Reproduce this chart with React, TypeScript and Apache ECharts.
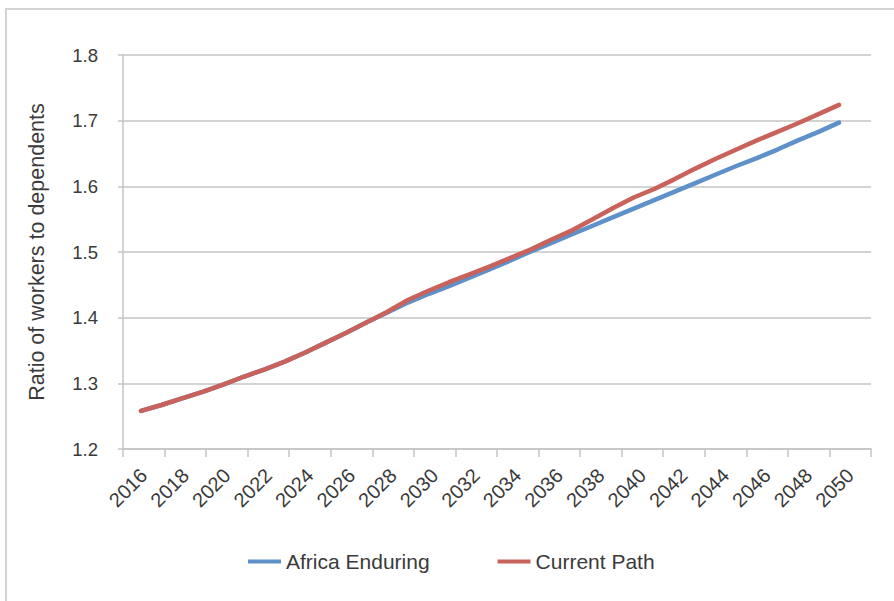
import React, { useEffect, useRef } from "react";
import * as echarts from "echarts";

const years = [
  2016, 2017, 2018, 2019, 2020, 2021, 2022, 2023, 2024, 2025, 2026, 2027,
  2028, 2029, 2030, 2031, 2032, 2033, 2034, 2035, 2036, 2037, 2038, 2039,
  2040, 2041, 2042, 2043, 2044, 2045, 2046, 2047, 2048, 2049, 2050,
];

const tickLabels = [
  "2016", "2018", "2020", "2022", "2024", "2026", "2028", "2030", "2032",
  "2034", "2036", "2038", "2040", "2042", "2044", "2046", "2048", "2050",
];

const africaEnduring = [
  1.258, 1.267, 1.277, 1.287, 1.298, 1.310, 1.321, 1.333, 1.347, 1.362, 1.377, 1.393,
  1.408, 1.423, 1.436, 1.448, 1.461, 1.474, 1.487, 1.501, 1.514, 1.527, 1.540, 1.553,
  1.566, 1.579, 1.592, 1.605, 1.618, 1.631, 1.643, 1.656, 1.670, 1.683, 1.697,
];

const currentPath = [
  1.258, 1.267, 1.277, 1.287, 1.298, 1.310, 1.321, 1.333, 1.347, 1.362, 1.377, 1.393,
  1.409, 1.427, 1.441, 1.454, 1.466, 1.478, 1.491, 1.504, 1.519, 1.533, 1.550, 1.567,
  1.583, 1.596, 1.611, 1.627, 1.642, 1.656, 1.670, 1.683, 1.696, 1.710, 1.724,
];

const seriesNames = ["Africa Enduring", "Current Path"];
const colors = ["#5e90c9", "#c8625b"];

const FONT = "'Liberation Sans', Arial, sans-serif";
const TEXT = "#3a3a3a";
const AXIS = "#c4c4c4";

export default function App() {
  const ref = useRef<HTMLDivElement>(null);

  useEffect(() => {
    if (!ref.current) return;
    const chart = echarts.init(ref.current, undefined, { renderer: "svg" });
    const pair = (vals: number[]) => years.map((y, i) => [y, vals[i]]);
    chart.setOption({
      animation: false,
      backgroundColor: "#ffffff",
      textStyle: { fontFamily: FONT },
      graphic: [
        {
          type: "rect",
          shape: { x: 6, y: 9, width: 1000, height: 1000 },
          style: { fill: "none", stroke: "#d2d2d2", lineWidth: 2 },
          silent: true,
        },
      ],
      grid: { left: 123, right: 23, top: 55, bottom: 152 },
      legend: {
        data: seriesNames,
        left: 243,
        top: 546,
        icon: "rect",
        itemWidth: 33,
        itemHeight: 4,
        itemGap: 68,
        textStyle: { fontFamily: FONT, fontSize: 21, color: TEXT },
      },
      xAxis: [
        {
          type: "category",
          data: tickLabels,
          boundaryGap: true,
          axisLine: { show: true, lineStyle: { color: AXIS, width: 1.5 } },
          axisTick: { show: true, length: 8, lineStyle: { color: AXIS, width: 1.5 } },
          axisLabel: {
            rotate: 45,
            margin: 23,
            fontFamily: FONT,
            fontSize: 20,
            color: TEXT,
          },
          splitLine: { show: false },
        },
        {
          type: "value",
          min: 2015.123,
          max: 2051.559,
          show: false,
          splitLine: { show: false },
        },
      ],
      yAxis: {
        type: "value",
        min: 1.2,
        max: 1.8,
        interval: 0.1,
        name: "Ratio of workers to dependents",
        nameLocation: "middle",
        nameGap: 75,
        nameTextStyle: { fontFamily: FONT, fontSize: 21.5, color: TEXT },
        axisLine: { show: true, lineStyle: { color: AXIS, width: 1.5 } },
        axisTick: { show: true, length: 5, lineStyle: { color: AXIS, width: 1.5 } },
        axisLabel: {
          margin: 25,
          fontFamily: FONT,
          fontSize: 18.5,
          color: TEXT,
          formatter: (v: number) => v.toFixed(1),
        },
        splitLine: { show: true, lineStyle: { color: AXIS, width: 1.5 } },
      },
      series: [
        {
          name: seriesNames[0],
          type: "line",
          xAxisIndex: 1,
          data: pair(africaEnduring),
          showSymbol: false,
          symbol: "none",
          lineStyle: { color: colors[0], width: 4.5, cap: "round", join: "round" },
          itemStyle: { color: colors[0] },
        },
        {
          name: seriesNames[1],
          type: "line",
          xAxisIndex: 1,
          data: pair(currentPath),
          showSymbol: false,
          symbol: "none",
          lineStyle: { color: colors[1], width: 4.5, cap: "round", join: "round" },
          itemStyle: { color: colors[1] },
        },
      ],
    });
    return () => chart.dispose();
  }, []);

  return (
    <div
      ref={ref}
      style={{ position: "fixed", left: 0, top: 0, width: 894, height: 601 }}
    />
  );
}
